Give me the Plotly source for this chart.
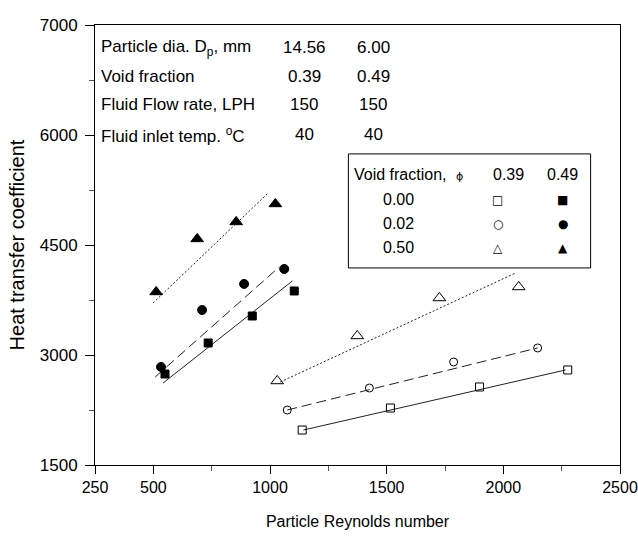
import plotly.graph_objects as go

# Particle Reynolds number / heat transfer coefficient, void fraction 0.49 (filled markers)
re_049_sq = [550, 735, 924, 1104]
h_049_sq = [2741, 3164, 3532, 3873]
re_049_ci = [533, 709, 889, 1061]
h_049_ci = [2837, 3614, 3969, 4173]
re_049_tr = [512, 688, 855, 1023]
h_049_tr = [3860, 4583, 4815, 5060]

# void fraction 0.39 (open markers)
re_039_sq = [1138, 1516, 1898, 2276]
h_039_sq = [1977, 2277, 2564, 2796]
re_039_ci = [1074, 1426, 1787, 2147]
h_039_ci = [2250, 2550, 2905, 3096]
re_039_tr = [1031, 1374, 1726, 2066]
h_039_tr = [2646, 3260, 3778, 3928]

# correlation lines (end points)
fit_049_sq_x = [542, 1096]
fit_049_sq_y = [2618, 4010]
fit_049_ci_x = [508, 1040]
fit_049_ci_y = [2700, 4201]
fit_049_tr_x = [499, 988]
fit_049_tr_y = [3710, 5196]
fit_039_sq_x = [1143, 2267]
fit_039_sq_y = [1977, 2796]
fit_039_ci_x = [1074, 2147]
fit_039_ci_y = [2250, 3096]
fit_039_tr_x = [1044, 2053]
fit_039_tr_y = [2632, 4119]

# axis ticks
x_ticks = [250, 500, 1000, 1500, 2000, 2500]
y_ticks = [1500, 3000, 4500, 6000, 7500]
y_ticktext = ['1500', '3000', '4500', '6000', '7000']

# info table
info_labels = ['Particle dia. D<sub>p</sub>, mm', 'Void fraction',
               'Fluid Flow rate, LPH', 'Fluid inlet temp. <sup>o</sup>C']
info_col1 = ['14.56', '0.39', '150', '40']
info_col2 = ['6.00', '0.49', '150', '40']

# legend table
phi_values = ['0.00', '0.02', '0.50']
open_symbols = ['\u25a1', '\u25cb', '\u25b3']
filled_symbols = ['\u25a0', '\u25cf', '\u25b2']

FONT = 'Liberation Sans, Arial, sans-serif'

fig = go.Figure()

lines = [
    (fit_049_sq_x, fit_049_sq_y, 'solid'),
    (fit_049_ci_x, fit_049_ci_y, '10px,5px'),
    (fit_049_tr_x, fit_049_tr_y, '2px,2px'),
    (fit_039_sq_x, fit_039_sq_y, 'solid'),
    (fit_039_ci_x, fit_039_ci_y, '10px,5px'),
    (fit_039_tr_x, fit_039_tr_y, '2px,2px'),
]
for lx, ly, dash in lines:
    fig.add_trace(go.Scatter(x=lx, y=ly, mode='lines',
                             line=dict(color='#222222', width=1, dash=dash),
                             showlegend=False, hoverinfo='skip'))

points = [
    (re_049_sq, h_049_sq, 'square', 8),
    (re_049_ci, h_049_ci, 'circle', 9),
    (re_049_tr, h_049_tr, 'triangle-up', 11),
    (re_039_sq, h_039_sq, 'square-open', 8),
    (re_039_ci, h_039_ci, 'circle-open', 8),
    (re_039_tr, h_039_tr, 'triangle-up-open', 11),
]
for px_, py_, sym, size in points:
    fig.add_trace(go.Scatter(x=px_, y=py_, mode='markers',
                             marker=dict(symbol=sym, size=size, color='black',
                                         line=dict(color='black', width=1)),
                             showlegend=False))

# info table text
row_y = [7188, 6792, 6410, 6001]
for i, lab in enumerate(info_labels):
    fig.add_annotation(x=265, y=row_y[i], text=lab, xanchor='left', showarrow=False,
                       font=dict(size=17, color='black', family=FONT))
    fig.add_annotation(x=1146, y=row_y[i], text=info_col1[i], showarrow=False,
                       font=dict(size=17, color='black', family=FONT))
    fig.add_annotation(x=1443, y=row_y[i], text=info_col2[i], showarrow=False,
                       font=dict(size=17, color='black', family=FONT))

# legend box
fig.add_shape(type='rect', x0=1336, x1=2374, y0=4187, y1=5742,
              line=dict(color='black', width=1), fillcolor='white')
fig.add_annotation(x=1352, y=5456, xanchor='left', showarrow=False,
                   text='Void fraction,',
                   font=dict(size=16, color='black', family=FONT))
fig.add_annotation(x=1810, y=5430, showarrow=False, text='\u03d5',
                   font=dict(size=11, color='black', family='DejaVu Sans'))
fig.add_annotation(x=2022, y=5456, text='0.39', showarrow=False,
                   font=dict(size=16, color='black', family=FONT))
fig.add_annotation(x=2254, y=5456, text='0.49', showarrow=False,
                   font=dict(size=16, color='black', family=FONT))
leg_y = [5115, 4787, 4460]
for i, v in enumerate(phi_values):
    fig.add_annotation(x=1550, y=leg_y[i], text=v, showarrow=False,
                       font=dict(size=16, color='black', family=FONT))
    fig.add_annotation(x=1975, y=leg_y[i], text=open_symbols[i], showarrow=False,
                       font=dict(size=12, color='black', family='DejaVu Sans'))
    fig.add_annotation(x=2254, y=leg_y[i], text=filled_symbols[i], showarrow=False,
                       font=dict(size=12, color='black', family='DejaVu Sans'))

fig.update_xaxes(
    range=[250, 2500], tickmode='array', tickvals=x_ticks, automargin=False,
    ticks='outside', ticklen=8, tickcolor='black', ticklabeloverflow='allow',
    minor=dict(dtick=250, tick0=250, ticks='outside', ticklen=5, tickcolor='#555555'),
    showgrid=False, zeroline=False, showline=True, linecolor='black', linewidth=1,
    mirror=True, tickfont=dict(size=16, color='black', family=FONT),
    title=dict(text='Particle Reynolds number', standoff=20,
               font=dict(size=16, color='black', family=FONT)),
)
fig.update_yaxes(
    range=[1500, 7500], tickmode='array', tickvals=y_ticks, ticktext=y_ticktext,
    automargin=False, ticklabelstandoff=4,
    ticks='outside', ticklen=9, tickcolor='black',
    minor=dict(dtick=750, tick0=1500, ticks='outside', ticklen=5, tickcolor='#555555'),
    showgrid=False, zeroline=False, showline=True, linecolor='black', linewidth=1,
    mirror=True, tickfont=dict(size=17, color='black', family=FONT),
    title=dict(text='Heat transfer coefficient', standoff=9,
               font=dict(size=20, color='black', family=FONT)),
)

fig.update_layout(
    width=638, height=541,
    margin=dict(l=95, r=18, t=25, b=76),
    plot_bgcolor='white', paper_bgcolor='white',
    font=dict(family=FONT, color='black'),
)

# drop the default page margin and scrollbars so the figure fills the window
page_js = ("document.body.style.margin='0';"
           "document.body.style.overflow='hidden';"
           "document.documentElement.style.overflow='hidden';")
fig.write_html("out.html", post_script=page_js,
               config={'displayModeBar': False, 'responsive': False})
